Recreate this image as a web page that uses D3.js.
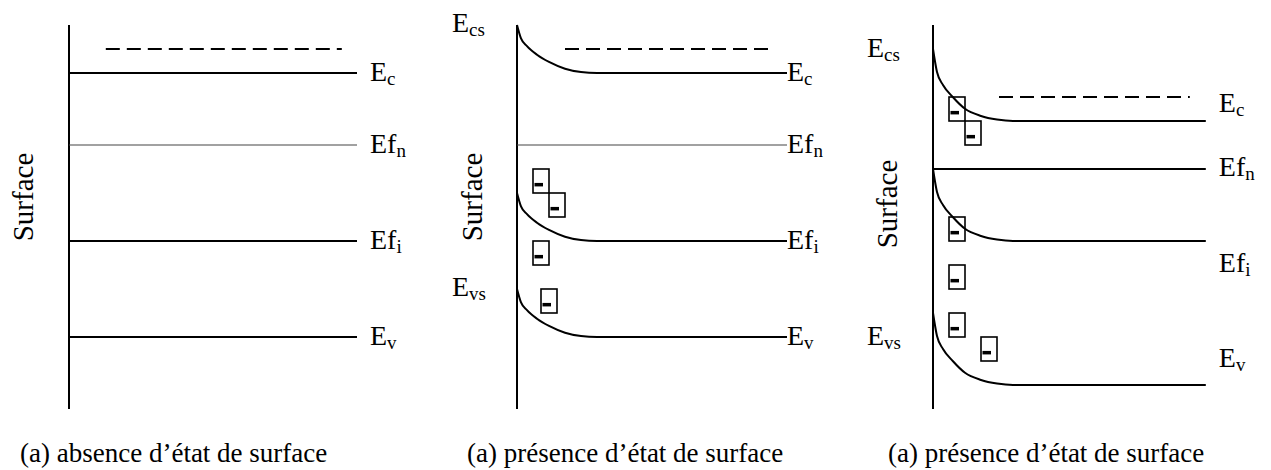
<!DOCTYPE html>
<html>
<head>
<meta charset="utf-8">
<script src="https://cdn.jsdelivr.net/npm/d3@7"></script>
<style>
  body { margin: 0; background: #fff; }
  text { font-family: "Liberation Serif", "Times New Roman", Times, serif; fill: #000; }
</style>
</head>
<body>
<svg id="chart" width="1271" height="470"></svg>
<script>
// energies in arbitrary units, distance from surface in arbitrary units
const levelNames = ["Ec", "Efn", "Efi", "Ev"];
const levelMain = ["E", "Ef", "Ef", "E"];
const levelSub = ["c", "n", "i", "v"];
const bulkLevels = [[14, 11, 7, 3], [14, 11, 7, 3], [12, 10, 7, 1]];
const surfaceLevels = [[14, 11, 7, 3], [16, 11, 9, 5], [15, 10, 10, 4]];
const dashLevel = [15, 15, 13];
const dashRange = [[4.6, 34.1], [6, 32], [8.25, 32.1]];
const bulkEnd = [36, 33.75, 34.1];
const bendDist = [0, 0.5, 1.25, 2.5, 4, 6, 8, 10];
const bendFrac = [
    [0, 0, 0, 0, 0, 0, 0, 0],
    [1, 0.72, 0.56, 0.38, 0.23, 0.09, 0.02, 0],
    [1, 0.68, 0.5, 0.33, 0.17, 0.07, 0.02, 0]
];
// surface states: [distance, top energy]
const surfaceStates = [
    [],
    [[2, 10], [4, 9], [2, 7], [3, 5]],
    [[2, 13], [4, 12], [2, 8], [2, 6], [2, 4], [6, 3]]
];
const surfaceLabelsTop = [null, 16, 15];
const surfaceLabelsBottom = [null, 5, 4];
const captions = ["(a) absence d’état de surface", "(a) présence d’état de surface", "(a) présence d’état de surface"];

// layout
const panels = [
    { x0: 69, labelDx: 13, labelDy: [8, 8, 8, 8], surfX: 33, surfY: 197, capX: 20, efnThin: true },
    { x0: 517, labelDx: 0, labelDy: [8, 8, 8, 8], surfX: 482, surfY: 197, capX: 467, efnThin: true,
      sLabelX: 452, sLabelDy: [7, 7] },
    { x0: 933, labelDx: 13, labelDy: [-9, 7, 31, -18], surfX: 897, surfY: 204, capX: 888, efnThin: false,
      sLabelX: 867, sLabelDy: [8, 32] }
];

const svg = d3.select("#chart");
const y = d3.scaleLinear().domain([0, 16]).range([409, 25]);

function label(g, x, yy, main, sub) {
    const t = g.append("text")
        .attr("x", x).attr("y", yy)
        .attr("font-size", 28);
    t.append("tspan").text(main);
    t.append("tspan").attr("font-size", 19).attr("dy", 4).text(sub);
}

panels.forEach((p, pi) => {
    const g = svg.append("g");
    const x = d3.scaleLinear().domain([0, 1]).range([p.x0, p.x0 + 8]);
    const line = d3.line().x(d => x(d[0])).y(d => y(d[1])).curve(d3.curveMonotoneX);

    // surface
    g.append("line")
        .attr("x1", x(0)).attr("x2", x(0))
        .attr("y1", y(0)).attr("y2", y(16))
        .attr("stroke", "#000").attr("stroke-width", 2);

    // dashed level
    g.append("line")
        .attr("x1", x(dashRange[pi][0])).attr("x2", x(dashRange[pi][1]))
        .attr("y1", y(dashLevel[pi])).attr("y2", y(dashLevel[pi]))
        .attr("stroke", "#000").attr("stroke-width", 2)
        .attr("stroke-dasharray", "14,7");

    levelNames.forEach((name, li) => {
        const b = bulkLevels[pi][li], s = surfaceLevels[pi][li];
        let pts;
        if (s === b) {
            pts = [[0, b], [bulkEnd[pi], b]];
        } else {
            pts = bendDist.map((d, k) => [d, b + (s - b) * bendFrac[pi][k]]);
            pts.push([bulkEnd[pi], b]);
        }
        const thin = name === "Efn" && p.efnThin;
        g.append("path")
            .attr("d", line(pts))
            .attr("fill", "none")
            .attr("stroke", thin ? "#444" : "#000")
            .attr("stroke-width", thin ? 1.2 : 2);

        label(g, x(bulkEnd[pi]) + p.labelDx, y(b) + p.labelDy[li], levelMain[li], levelSub[li]);
    });

    // surface states
    surfaceStates[pi].forEach(st => {
        const bx = x(st[0]), by = y(st[1]);
        const w = x(2) - x(0), h = y(st[1] - 1) - y(st[1]);
        g.append("rect")
            .attr("x", bx).attr("y", by).attr("width", w).attr("height", h)
            .attr("fill", "none").attr("stroke", "#000").attr("stroke-width", 1.6);
        g.append("rect")
            .attr("x", bx + 1.5).attr("y", by + h * 0.58).attr("width", 8.5).attr("height", 3.5)
            .attr("fill", "#000");
    });

    if (surfaceLabelsTop[pi] !== null) {
        label(g, p.sLabelX, y(surfaceLabelsTop[pi]) + p.sLabelDy[0], "E", "cs");
        label(g, p.sLabelX, y(surfaceLabelsBottom[pi]) + p.sLabelDy[1], "E", "vs");
    }

    g.append("text")
        .attr("transform", `translate(${p.surfX},${p.surfY}) rotate(-90)`)
        .attr("text-anchor", "middle")
        .attr("font-size", 29)
        .text("Surface");

    g.append("text")
        .attr("x", p.capX).attr("y", 462)
        .attr("font-size", 27)
        .text(captions[pi]);
});
</script>
</body>
</html>
